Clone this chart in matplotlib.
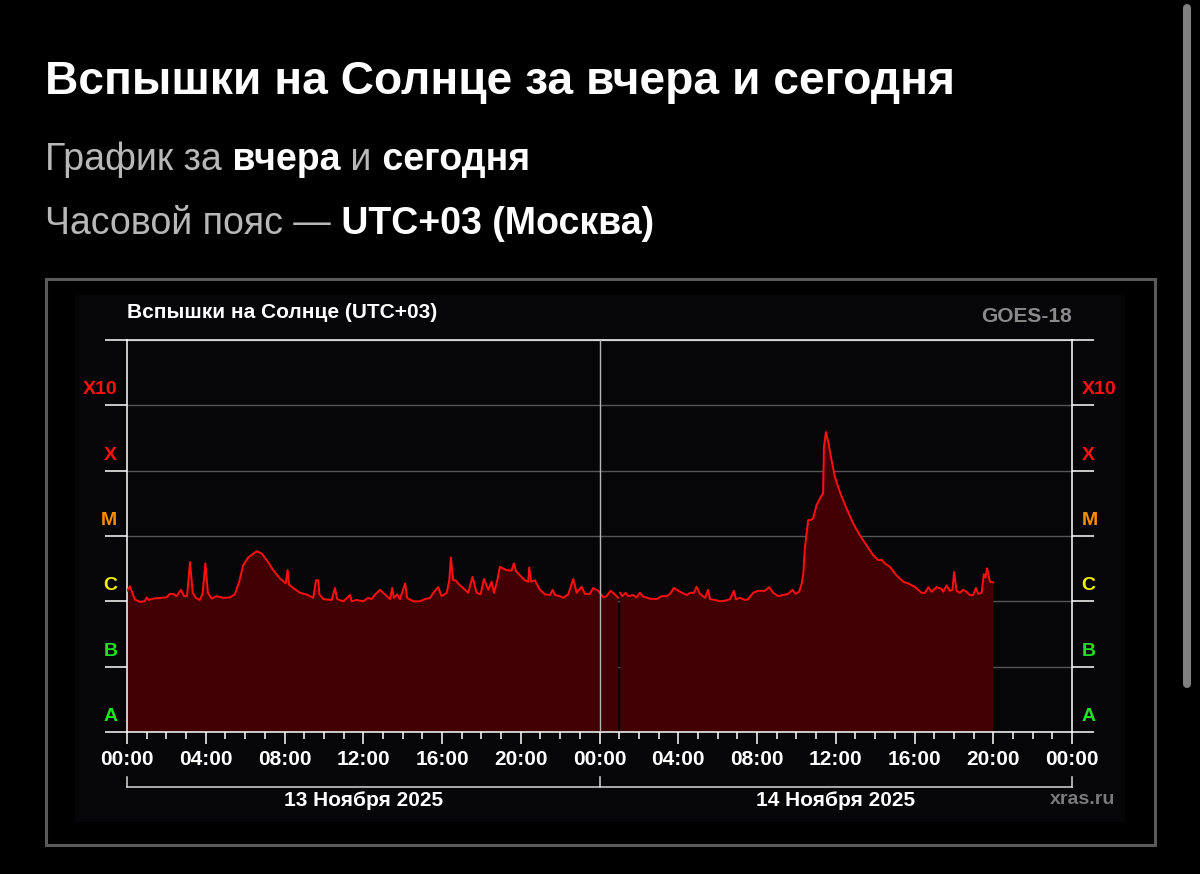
"""
Solar flares chart (GOES-18 X-ray flux), yesterday and today, UTC+03.
"""

import numpy as np
import matplotlib
matplotlib.use("Agg")  # headless backend
import matplotlib.pyplot as plt
from matplotlib.patches import Rectangle
from matplotlib.lines import Line2D
from matplotlib.ticker import FixedLocator, FixedFormatter, MultipleLocator
import matplotlib.transforms as mtransforms

plt.rcParams["font.family"] = ["Liberation Sans", "DejaVu Sans"]

# hours since 13 Nov 00:00 (UTC+03); flux in units of 1e-7 W/m^2 (C1 = 1)
HOURS = [
    0.0, 0.15, 0.4, 0.66, 0.9, 1.0, 1.1, 1.33, 1.68, 2.0, 2.18, 2.35, 2.52, 2.74, 2.9,
    3.05, 3.2, 3.34, 3.5, 3.7, 3.84, 3.98, 4.11, 4.3, 4.55, 4.89, 5.23, 5.48, 5.7, 5.9,
    6.16, 6.59, 6.84, 7.1, 7.43, 7.77, 8.06, 8.16, 8.23, 8.45, 8.79, 9.13, 9.46, 9.6,
    9.72, 9.77, 9.98, 10.4, 10.56, 10.68, 10.99, 11.33, 11.41, 11.66, 12.0, 12.25,
    12.42, 12.6, 12.85, 13.1, 13.36, 13.47, 13.56, 13.73, 13.86, 14.13, 14.23, 14.54,
    14.88, 15.13, 15.39, 15.56, 15.81, 15.98, 16.24, 16.37, 16.45, 16.57, 16.69, 16.82,
    17.0, 17.17, 17.33, 17.55, 17.76, 17.96, 18.13, 18.35, 18.52, 18.64, 18.81, 18.94,
    19.28, 19.53, 19.65, 19.76, 19.96, 20.21, 20.38, 20.43, 20.53, 20.72, 20.98, 21.23,
    21.48, 21.62, 21.74, 21.99, 22.16, 22.41, 22.67, 22.84, 23.09, 23.26, 23.51, 23.68,
    23.94, 24.19, 24.36, 24.56, 24.78, 24.95, 25.0, 25.05, 25.15, 25.33, 25.46, 25.71,
    25.88, 26.05, 26.22, 26.56, 26.9, 27.16, 27.41, 27.58, 27.78, 28.09, 28.43, 28.6,
    28.8, 28.93, 29.1, 29.36, 29.52, 29.61, 29.86, 30.12, 30.37, 30.63, 30.83, 30.93,
    31.13, 31.39, 31.55, 31.8, 32.06, 32.4, 32.62, 32.82, 33.08, 33.33, 33.58, 33.8,
    33.96, 34.14, 34.27, 34.35, 34.43, 34.6, 34.72, 34.85, 35.02, 35.19, 35.36, 35.4,
    35.5, 35.62, 35.79, 35.96, 36.21, 36.55, 36.89, 37.23, 37.57, 37.9, 38.16, 38.33,
    38.5, 38.75, 39.09, 39.43, 39.68, 40.02, 40.36, 40.53, 40.7, 40.87, 41.12, 41.38,
    41.46, 41.63, 41.8, 41.93, 42.01, 42.14, 42.3, 42.47, 42.64, 42.81, 42.98, 43.12,
    43.24, 43.41, 43.52, 43.6, 43.69, 43.83, 44.0,
]
FLUX_C = [
    1.45, 1.7, 1.07, 0.98, 1.0, 1.15, 1.05, 1.1, 1.13, 1.15, 1.3, 1.3, 1.2, 1.5, 1.2,
    1.2, 4.0, 1.35, 1.13, 1.05, 1.3, 3.8, 1.35, 1.1, 1.2, 1.13, 1.15, 1.28, 2.0, 3.57,
    4.7, 5.85, 5.4, 4.27, 3.0, 2.24, 1.88, 3.0, 1.8, 1.6, 1.35, 1.27, 1.13, 2.1,
    2.1, 1.28, 1.08, 1.05, 1.6, 1.08, 1.0, 1.25, 1.0, 1.05, 1.0, 1.13,
    1.08, 1.27, 1.5, 1.28, 1.08, 1.6, 1.13, 1.28, 1.08, 1.88, 1.13, 1.0,
    1.0, 1.08, 1.13, 1.35, 1.65, 1.2, 1.35, 2.1, 4.7, 2.1, 2.1, 1.88,
    1.67, 1.5, 1.35, 2.37, 1.35, 1.28, 2.2, 1.5, 2.0, 1.35, 2.1, 3.37,
    3.0, 2.95, 3.8, 2.9, 2.5, 2.1, 2.0, 3.3, 2.0, 2.1, 1.5, 1.28,
    1.25, 1.5, 1.25, 1.2, 1.13, 1.28, 2.2, 1.35, 1.67, 1.3, 1.3, 1.6,
    1.45, 1.15, 1.2, 1.45, 1.28, 1.13, np.nan, 1.35, 1.2, 1.35, 1.2, 1.25,
    1.15, 1.35, 1.18, 1.1, 1.08, 1.2, 1.2, 1.3, 1.6, 1.4, 1.25, 1.35,
    1.35, 1.67, 1.3, 1.13, 1.5, 1.08, 1.05, 1.0, 1.02, 1.08, 1.45, 1.08,
    1.13, 1.05, 1.08, 1.35, 1.45, 1.45, 1.65, 1.35, 1.2, 1.25, 1.3, 1.5,
    1.3, 1.4, 1.88, 2.6, 6.5, 17.5, 17.5, 18.5, 29.6, 37.0, 45.6, 230.0,
    390.0, 275.0, 144.0, 80.0, 47.2, 26.3, 15.5, 10.2, 7.2, 5.1, 4.27, 4.3,
    3.8, 3.37, 2.5, 2.0, 1.88, 1.67, 1.35, 1.35, 1.65, 1.4, 1.65, 1.55,
    1.4, 1.75, 1.45, 1.5, 2.8, 1.45, 1.35, 1.5, 1.4, 1.25, 1.25, 1.6,
    1.3, 1.35, 2.6, 2.3, 3.2, 2.0, 1.95,
]

CLASS_LABELS = ["A", "B", "C", "M", "X", "X10"]
CLASS_COLORS = ["#22e022", "#22e022", "#f0f000", "#ff8c00", "#ff1010", "#ff1010"]
TIME_LABELS = ["00:00", "04:00", "08:00", "12:00", "16:00", "20:00"] * 2 + ["00:00"]
DAY_LABELS = ["13 Ноября 2025", "14 Ноября 2025"]

W, H = 1200, 874


def fx(px):
    return px / W


def fy(py):
    return 1 - py / H


def draw_runs(fig, x, y, runs, size):
    renderer = fig.canvas.get_renderer()
    for text, weight, color in runs:
        t = fig.text(x, y, text, fontsize=size, fontweight=weight, color=color,
                     ha="left", va="baseline")
        bb = t.get_window_extent(renderer)
        x = bb.x1 / fig.bbox.width


def main():
    fig = plt.figure(figsize=(W / 100, H / 100), dpi=100, facecolor="black")

    # header
    fig.text(fx(45), fy(94), "Вспышки на Солнце за вчера и сегодня", fontsize=33.2,
             fontweight="bold", color="white", ha="left", va="baseline")
    draw_runs(fig, fx(45), fy(170), [
        ("График за", "normal", "#b8b8b8"),
        (" вчера", "bold", "white"),
        (" и", "normal", "#b8b8b8"),
        (" сегодня", "bold", "white"),
    ], 27)
    draw_runs(fig, fx(45), fy(234), [
        ("Часовой пояс —", "normal", "#b8b8b8"),
        (" UTC+03 (Москва)", "bold", "white"),
    ], 27)

    # frames (behind the axes)
    fig.patches.append(Rectangle((fx(45.5), fy(845)), fx(1109.5), 566 / H,
                                 transform=fig.transFigure, fill=False,
                                 edgecolor="#5a5a5a", linewidth=2.2, zorder=-2))
    fig.patches.append(Rectangle((fx(75), fy(822)), fx(1050), 527 / H,
                                 transform=fig.transFigure, facecolor="#060609",
                                 edgecolor="none", zorder=-1))
    # scrollbar
    fig.lines.append(Line2D([fx(1187), fx(1187)], [fy(8), fy(684)], transform=fig.transFigure,
                            color="#808080", linewidth=5.8, solid_capstyle="round"))

    ax = fig.add_axes([fx(127), fy(732), fx(945), 392 / H])
    ax.set_facecolor("none")

    hours = np.array(HOURS)
    flux = np.array(FLUX_C) * 1e-7

    ax.set_yscale("log")
    ax.set_ylim(1e-9, 1e-3)
    ax.set_xlim(0, 48)

    ax.fill_between(hours, flux, 1e-9, color="#400004", linewidth=0, zorder=2)
    ax.plot(hours, flux, color="#ff1010", linewidth=1.4, zorder=3)
    ax.axvline(24, color="#b4b4b4", linewidth=1.0, zorder=4)

    # y axis: decade ticks, class labels in between
    decades = [10.0 ** e for e in range(-9, -2)]
    ax.yaxis.set_major_locator(FixedLocator(decades))
    ax.yaxis.set_major_formatter(FixedFormatter([""] * len(decades)))
    ax.yaxis.set_minor_locator(FixedLocator([10.0 ** (e + 0.27) for e in range(-9, -3)]))
    ax.yaxis.set_minor_formatter(FixedFormatter(CLASS_LABELS))
    ax.tick_params(axis="y", which="major", left=True, right=True, length=16,
                   width=1.1, color="white")
    ax.tick_params(axis="y", which="minor", left=True, right=True, length=0,
                   labelleft=True, labelright=True, pad=7, labelsize=14)
    for tick, col in zip(ax.yaxis.get_minor_ticks(), CLASS_COLORS):
        tick.label1.set_color(col)
        tick.label2.set_color(col)
        tick.label1.set_fontweight("bold")
        tick.label2.set_fontweight("bold")
    ax.grid(True, axis="y", which="major", color="#555555", linewidth=1.0, zorder=1)

    # x axis: 4-hour labels, hourly minor ticks
    ax.xaxis.set_major_locator(FixedLocator(range(0, 49, 4)))
    ax.xaxis.set_major_formatter(FixedFormatter(TIME_LABELS))
    ax.xaxis.set_minor_locator(MultipleLocator(1))
    ax.tick_params(axis="x", which="major", length=8.6, width=1.1, color="white",
                   labelcolor="white", labelsize=15, pad=4.5)
    ax.tick_params(axis="x", which="minor", length=5, width=1.1, color="white")
    for lab in ax.get_xticklabels():
        lab.set_fontweight("bold")

    for side in ["left", "right", "top", "bottom"]:
        ax.spines[side].set_color("white")
        ax.spines[side].set_linewidth(1.1)

    # day bracket under the time axis
    trans = mtransforms.blended_transform_factory(ax.transData, ax.transAxes)
    y_br = -55 / 392
    y_br_top = -45 / 392
    ax.plot([0, 48], [y_br, y_br], transform=trans, color="#d8d8d8", linewidth=1.1,
            clip_on=False)
    for xv in [0, 24, 48]:
        ax.plot([xv, xv], [y_br, y_br_top], transform=trans, color="#d8d8d8",
                linewidth=1.1, clip_on=False)
    for xc, lab in zip([12, 36], DAY_LABELS):
        ax.text(xc, -68 / 392, lab, transform=trans, ha="center", va="center",
                fontsize=15, fontweight="bold", color="white")

    ax.text(0, (732 - 313) / 392, "Вспышки на Солнце (UTC+03)", transform=ax.transAxes,
            ha="left", va="center", fontsize=15, fontweight="bold", color="white")
    ax.text(1, (732 - 317) / 392, "GOES-18", transform=ax.transAxes, ha="right",
            va="center", fontsize=15, fontweight="bold", color="#8a8a8a")
    fig.text(fx(1115), fy(800), "xras.ru", ha="right", va="center", fontsize=14,
             fontweight="bold", color="#7a7a7a")

    fig.savefig("out.png", dpi=100, facecolor="black")
    plt.close(fig)


if __name__ == "__main__":
    main()
